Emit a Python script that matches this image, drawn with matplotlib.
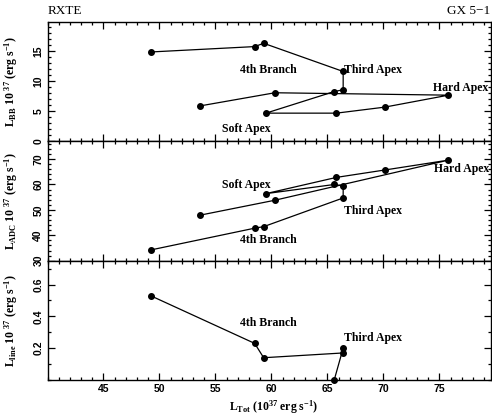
import numpy as np
import matplotlib
matplotlib.use("Agg")
import matplotlib.pyplot as plt
from matplotlib.ticker import MultipleLocator, FixedLocator

# === Data ===
l_tot = [49.2, 58.5, 59.3, 66.4, 66.4, 65.6, 59.5, 65.8, 70.1, 75.8, 60.3, 53.6]
l_bb = [14.9, 15.8, 16.35, 11.65, 8.6, 8.3, 4.7, 4.7, 5.7, 7.7, 8.1, 5.9]
l_adc = [34.2, 42.8, 43.4, 54.7, 59.4, 60.0, 56.4, 62.8, 65.7, 69.6, 53.8, 47.9]

line_tot = [49.2, 58.5, 59.3, 66.4, 66.4, 65.6]
l_line = [0.53, 0.23, 0.14, 0.17, 0.20, 0.0]

# labels: (text, x, y) per panel
bb_labels = [("4th Branch", 57.2, 11.9), ("Third Apex", 66.45, 11.9),
             ("Hard Apex", 74.45, 8.95), ("Soft Apex", 55.6, 2.1)]
adc_labels = [("Soft Apex", 55.6, 59.9), ("Hard Apex", 74.5, 66.0),
              ("Third Apex", 66.5, 49.7), ("4th Branch", 57.2, 38.2)]
line_labels = [("4th Branch", 57.2, 0.36), ("Third Apex", 66.5, 0.265)]

plt.rcParams['mathtext.fontset'] = 'custom'
plt.rcParams['mathtext.rm'] = 'Liberation Serif:bold'
plt.rcParams['mathtext.it'] = 'Liberation Serif:italic:bold'
plt.rcParams['mathtext.bf'] = 'Liberation Serif:bold'
plt.rcParams['axes.linewidth'] = 1.0

serif = dict(family='Liberation Serif', weight='bold', size=8.5)
tickfont = dict(family='Liberation Sans', weight='bold', size=7.5)

fig = plt.figure(figsize=(4.92, 4.16), dpi=100)
left, width = 47.5 / 492, 443.5 / 492
top, bottom = 1 - 22 / 416, 1 - 380 / 416
h = (top - bottom) / 3
axes = [fig.add_axes([left, top - (i + 1) * h, width, h]) for i in range(3)]

panels = [
    (axes[0], l_tot, l_bb, bb_labels, (0, 19.9), [0, 5, 10, 15], 1,
     r'L$_{\rm BB}$ 10 $^{\rm 37}$ (erg s$^{-1}$)'),
    (axes[1], l_tot, l_adc, adc_labels, (30, 77), [30, 40, 50, 60, 70], 2,
     r'L$_{\rm ADC}$ 10 $^{\rm 37}$ (erg s$^{-1}$)'),
    (axes[2], line_tot, l_line, line_labels, (0, 0.75), [0.2, 0.4, 0.6], 0.1,
     r'L$_{\rm line}$ 10 $^{\rm 37}$ (erg s$^{-1}$)'),
]

for ax, xs, ys, labels, ylim, yticks, yminor, ylabel in panels:
    ax.plot(xs, ys, color='black', lw=0.9, marker='o', ms=4, clip_on=False, zorder=3)
    for txt, tx, ty in labels:
        ax.text(tx, ty, txt, ha='left', va='center', **serif)
    ax.set_xlim(40, 79.6)
    ax.set_ylim(*ylim)
    ax.xaxis.set_major_locator(FixedLocator([45, 50, 55, 60, 65, 70, 75]))
    ax.xaxis.set_minor_locator(MultipleLocator(1))
    ax.yaxis.set_major_locator(FixedLocator(yticks))
    ax.yaxis.set_minor_locator(MultipleLocator(yminor))
    ax.tick_params(which='both', direction='in', top=True, right=True, width=0.9, pad=3)
    ax.tick_params(which='major', length=5)
    ax.tick_params(which='minor', length=2.5)
    for lab in ax.get_yticklabels():
        lab.set_rotation(90)
        lab.set_va('center')
        lab.set_fontfamily(tickfont['family'])
        lab.set_fontweight('bold')
        lab.set_fontsize(tickfont['size'])
    ax.set_ylabel(ylabel, **serif)
    ax.yaxis.set_label_coords(-0.062, 0.5)

axes[0].tick_params(labelbottom=False)
axes[1].tick_params(labelbottom=False)
for lab in axes[2].get_xticklabels():
    lab.set_fontfamily(tickfont['family'])
    lab.set_fontweight('bold')
    lab.set_fontsize(tickfont['size'])
axes[2].set_xlabel(r'L$_{\rm Tot}$ (10$^{\rm 37}$ erg s$^{-1}$)', **serif)
axes[2].xaxis.set_label_coords(0.51, -0.155)

fig.text(48 / 492, 1 - 11 / 416, "RXTE", ha='left', va='center',
         family='Liberation Serif', size=9.5)
fig.text(490 / 492, 1 - 11 / 416, "GX 5\u22121", ha='right', va='center',
         family='Liberation Serif', size=9.5)

fig.savefig("out.png", dpi=100)
